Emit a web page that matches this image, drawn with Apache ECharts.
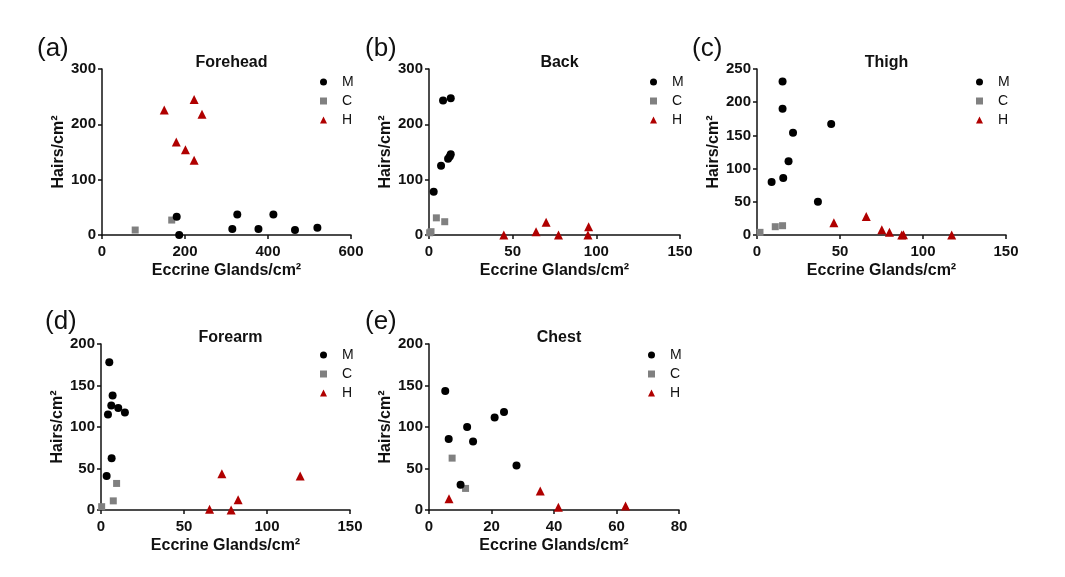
<!DOCTYPE html>
<html>
<head>
<meta charset="utf-8">
<script src="https://cdn.jsdelivr.net/npm/echarts@6/dist/echarts.min.js"></script>
<style>html,body{margin:0;padding:0;background:#fff}#c{width:1065px;height:577px}</style>
</head>
<body>
<div id="c"></div>
<script>
// ---- Data (x = Eccrine Glands/cm², y = Hairs/cm²) ----
const panelTitles = ['Forehead', 'Back', 'Thigh', 'Forearm', 'Chest'];
const panelLetters = ['(a)', '(b)', '(c)', '(d)', '(e)'];
const groupNames = ['M', 'C', 'H'];

const foreheadM = [[180, 33], [186, 0], [314, 11], [326, 37], [377, 11], [413, 37], [465, 9], [519, 13]];
const foreheadC = [[80, 9], [168, 27]];
const foreheadH = [[150, 226], [222, 245], [241, 218], [179, 168], [201, 154], [222, 135]];

const backM = [[2.8, 78], [8.4, 243], [13, 247], [7.2, 125], [11.4, 138], [12.4, 142], [13, 146]];
const backC = [[4.4, 31], [9.4, 24], [0.4, 4], [1.2, 6]];
const backH = [[44.7, 0], [64, 6], [70, 23], [77.4, 0], [95, 0], [95.4, 15]];

const thighM = [[15.4, 231], [15.4, 190], [21.7, 154], [19, 111], [8.8, 80], [15.8, 86], [44.7, 167], [36.7, 50]];
const thighC = [[1.8, 4], [11, 12.5], [15.4, 14]];
const thighH = [[46.3, 18.6], [65.8, 27.7], [75.2, 8], [79.8, 4], [87.2, 0], [88.2, 0.5], [117.3, 0]];

const forearmM = [[5, 178], [7, 138], [6.2, 126], [10.4, 123], [4.2, 115], [14.4, 117.5], [6.4, 62.5], [3.4, 41]];
const forearmC = [[0.4, 4], [7.4, 11], [9.4, 32]];
const forearmH = [[72.8, 43.7], [120, 41], [65.4, 1], [78.4, 0], [82.6, 12.4]];

const chestM = [[5.2, 143.5], [6.3, 85.4], [12.2, 100], [14.1, 82.6], [21, 111.4], [24, 118.2], [28, 53.7], [10.1, 30.5]];
const chestC = [[7.4, 62.5], [11.7, 26]];
const chestH = [[6.4, 13.6], [35.6, 22.8], [41.4, 3.2], [62.9, 4.8]];

const xMax = [600, 150, 150, 150, 80];
const xStep = [200, 50, 50, 50, 20];
const yMax = [300, 300, 250, 200, 200];
const yStep = [100, 100, 50, 50, 50];

const panelData = [
  [foreheadM, foreheadC, foreheadH],
  [backM, backC, backH],
  [thighM, thighC, thighH],
  [forearmM, forearmC, forearmH],
  [chestM, chestC, chestH]
];

// ---- Layout ----
const FONT = '"Liberation Sans", Arial, sans-serif';
const boxes = [
  {left: 102, top: 69, width: 249, height: 166},
  {left: 429, top: 69, width: 251, height: 166},
  {left: 757, top: 69, width: 249, height: 166},
  {left: 101, top: 344, width: 249, height: 166},
  {left: 429, top: 344, width: 250, height: 166}
];
const letterPos = [[32, 31], [360, 31], [687, 31], [40, 304], [360, 304]];
const legendPos = [[315, 70], [645, 70], [971, 70], [315, 343], [643, 343]];

const colors = {M: '#000000', C: '#808080', H: '#b00000'};
const symbols = {M: 'circle', C: 'rect', H: 'triangle'};
const sizes = {M: 8, C: 7, H: 9};

const grids = [], xAxes = [], yAxes = [], series = [], titles = [], legends = [];
boxes.forEach((b, i) => {
  grids.push(Object.assign({containLabel: false}, b));
  const axisCommon = {
    axisLine: {show: true, lineStyle: {color: '#111', width: 1.5}},
    axisTick: {show: true, length: 4, lineStyle: {color: '#111', width: 1.5}},
    splitLine: {show: false},
    axisLabel: {color: '#111', fontFamily: FONT, fontWeight: 'bold', fontSize: 15},
    nameTextStyle: {color: '#111', fontFamily: FONT, fontWeight: 'bold', fontSize: 16}
  };
  xAxes.push(Object.assign({}, axisCommon, {
    type: 'value', gridIndex: i, min: 0, max: xMax[i], interval: xStep[i],
    name: 'Eccrine Glands/cm²', nameLocation: 'middle', nameGap: 28,
    axisLabel: Object.assign({}, axisCommon.axisLabel, {margin: 9})
  }));
  yAxes.push(Object.assign({}, axisCommon, {
    type: 'value', gridIndex: i, min: 0, max: yMax[i], interval: yStep[i],
    name: 'Hairs/cm²', nameLocation: 'middle', nameGap: 34,
    axisLabel: Object.assign({}, axisCommon.axisLabel, {margin: 6})
  }));
  groupNames.forEach((g, k) => {
    series.push({
      type: 'scatter', name: g, xAxisIndex: i, yAxisIndex: i,
      data: panelData[i][k], symbol: symbols[g], symbolSize: sizes[g],
      itemStyle: {color: colors[g], opacity: 1}, z: 3 - k
    });
  });
  titles.push({
    text: panelTitles[i], left: b.left + b.width / 2, top: b.top - 19, textAlign: 'center',
    textStyle: {fontFamily: FONT, fontWeight: 'bold', fontSize: 16, color: '#111'}
  });
  titles.push({
    text: panelLetters[i], left: letterPos[i][0], top: letterPos[i][1],
    textStyle: {fontFamily: FONT, fontWeight: 'normal', fontSize: 26, color: '#111'}
  });
  legends.push({
    orient: 'vertical', left: legendPos[i][0], top: legendPos[i][1],
    itemWidth: 7, itemHeight: 7, itemGap: 5, selectedMode: false,
    data: groupNames.map(g => ({name: g, icon: symbols[g], itemStyle: {color: colors[g]}})),
    textStyle: {fontFamily: FONT, fontSize: 14, color: '#111', padding: [0, 0, 0, 10]}
  });
});

const chart = echarts.init(document.getElementById('c'), null, {renderer: 'canvas'});
chart.setOption({
  animation: false,
  backgroundColor: '#ffffff',
  title: titles,
  legend: legends,
  grid: grids,
  xAxis: xAxes,
  yAxis: yAxes,
  series: series
});
</script>
</body>
</html>
